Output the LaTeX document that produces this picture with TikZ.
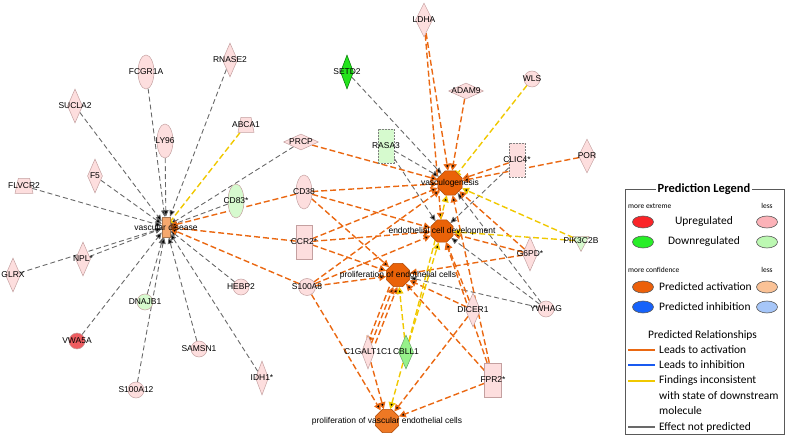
\documentclass[tikz,border=0pt]{standalone}
\usepackage{fontspec}
\setmainfont{Liberation Sans}
\newfontfamily\legfont{Carlito}
\usetikzlibrary{arrows.meta, positioning, shapes.geometric, backgrounds}

\definecolor{pinkf}{RGB}{253,222,222}
\definecolor{pinkd}{RGB}{196,160,160}
\definecolor{lgreenf}{RGB}{214,250,206}
\definecolor{midgreenf}{RGB}{150,242,138}
\definecolor{greenf}{RGB}{36,228,28}
\definecolor{redf}{RGB}{238,92,96}
\definecolor{oranf}{RGB}{234,98,8}
\definecolor{oranlf}{RGB}{238,120,36}
\definecolor{vdf}{RGB}{246,168,110}
\definecolor{edgeor}{RGB}{234,104,18}
\definecolor{edgeye}{RGB}{240,200,0}
\definecolor{edgegr}{RGB}{105,105,105}
\definecolor{edgebl}{RGB}{25,90,240}
\definecolor{upred}{RGB}{250,36,40}
\definecolor{uplt}{RGB}{252,178,184}
\definecolor{dngreen}{RGB}{40,238,40}
\definecolor{dnlt}{RGB}{188,248,178}
\definecolor{actS}{RGB}{236,96,10}
\definecolor{actW}{RGB}{250,194,150}
\definecolor{inhS}{RGB}{22,98,250}
\definecolor{inhW}{RGB}{166,198,248}

\tikzset{
  lbl/.style={font=\fontsize{8.5}{9}\selectfont, inner sep=0pt},
  gene/.style={draw=pinkd, fill=pinkf, line width=0.5bp, inner sep=0pt, label={[lbl]center:#1}},
  dia/.style={gene={#1}, diamond, minimum width=15bp, minimum height=34bp},
  wdia/.style={gene={#1}, diamond, minimum width=35bp, minimum height=16bp},
  ell/.style={gene={#1}, ellipse, minimum width=16bp, minimum height=34bp},
  circ/.style={gene={#1}, circle, minimum size=16bp},
  box16/.style={gene={#1}, rectangle, minimum width=16bp, minimum height=34bp},
  trap/.style={gene={#1}, trapezium, trapezium stretches=true, inner sep=1bp, trapezium left angle=74, trapezium right angle=74, minimum width=16bp, minimum height=15bp},
  tri/.style={gene={#1}, isosceles triangle, isosceles triangle stretches, shape border rotate=-90, inner sep=1bp, minimum width=16bp, minimum height=15bp},
  func/.style={draw=oranf!75!black, fill=oranf, line width=0.5bp, inner sep=0pt, regular polygon, regular polygon sides=8, minimum size=#1},
  ora/.style={draw=edgeor, line width=1.4bp, dash pattern=on 6bp off 3bp, -{Triangle[length=7bp,width=7bp]}},
  yel/.style={draw=edgeye, line width=1.4bp, dash pattern=on 6bp off 3bp, -{Triangle[length=7bp,width=7bp]}},
  yelbar/.style={draw=edgeye, line width=1.4bp, dash pattern=on 6bp off 3bp, -{Bar[width=7bp]}},
  gry/.style={draw=edgegr, line width=0.9bp, dash pattern=on 5bp off 3bp, -{Triangle[length=6.5bp,width=5.5bp]}},
  legtxt/.style={font=\legfont\fontsize{11.5}{13}\selectfont, inner sep=0pt, anchor=west},
  legsmall/.style={font=\legfont\fontsize{7.5}{9}\selectfont, inner sep=0pt},
  legell/.style={ellipse, draw=gray!70!black, line width=0.6bp, minimum width=21bp, minimum height=12bp, inner sep=0pt},
  legline/.style={line width=2.8bp, draw=#1},
}

\begin{document}
\begin{tikzpicture}[x=1bp, y=-1bp]
  \useasboundingbox (0,0) rectangle (787,438);

  % molecules round vascular disease
  \node[draw=vdf!70!black, fill=vdf, line width=0.5bp, inner sep=0pt, minimum width=8bp, minimum height=20bp,
        label={[lbl]center:vascular disease}] (vd) at (166,227) {};
  \node[ell=FCGR1A] (fcgr) at (146,72) {};
  \node[dia=RNASE2] (rnase) at (230,60) {};
  \node[dia=SUCLA2] (sucla) at (75,106) {};
  \node[ell=LY96] (ly96) at (165,141) {};
  \node[trap=ABCA1] (abca) at (246,125) {};
  \node[dia=F5] (f5) at (95,176) {};
  \node[trap=FLVCR2, minimum width=18bp] (flvcr) at (24,186) {};
  \node[ell=CD83*, fill=lgreenf] (cd83) at (236,201) {};
  \node[dia=NPL*] (npl) at (83,259) {};
  \node[dia=GLRX] (glrx) at (13,275) {};
  \node[circ=HEBP2] (hebp) at (241,287) {};
  \node[circ=DNAJB1, fill=lgreenf] (dnajb) at (145,302) {};
  \node[circ=VWA5A, fill=redf] (vwa) at (77,341) {};
  \node[circ=SAMSN1] (samsn) at (199,349) {};
  \node[circ=S100A12] (s100a12) at (136,390) {};
  \node[dia=IDH1*, minimum width=13bp] (idh) at (262,378) {};

  % middle column
  \node[wdia=PRCP] (prcp) at (301,142) {};
  \node[ell=CD38] (cd38) at (304,192) {};
  \node[box16=CCR2*] (ccr2) at (304,242) {};
  \node[circ=S100A8, minimum size=17bp] (s100a8) at (307,287) {};
  \node[dia=SETD2, fill=greenf, draw=green!45!black, minimum width=13bp] (setd2) at (347,72) {};
  \node[box16=RASA3, fill=lgreenf, draw=gray, dash pattern=on 2bp off 1bp] (rasa3) at (386,146) {};
  \node[dia=LDHA, minimum width=17bp] (ldha) at (424,20) {};
  \node[wdia=ADAM9] (adam9) at (466,91) {};
  \node[circ=WLS] (wls) at (532,79) {};
  \node[box16=CLIC4*, draw=gray, dash pattern=on 2bp off 1bp] (clic4) at (517,160) {};
  \node[dia=POR, minimum width=17bp] (por) at (587,156) {};

  % functions
  \node[func=26bp, label={[lbl]center:vasculogenesis}] (vg) at (450,183) {};
  \node[func=24bp, label={[lbl]center:endothelial cell development}] (ecd) at (442,231) {};
  \node[func=25bp, label={[lbl]center:proliferation of endothelial cells}] (pec) at (398,275) {};
  \node[func=25bp, fill=oranlf, label={[lbl]center:proliferation of vascular endothelial cells}] (pvec) at (387,421) {};

  % right side
  \node[tri=PIK3C2B, fill=lgreenf] (pik) at (581,241) {};
  \node[dia=G6PD*] (g6pd) at (530,254) {};
  \node[circ=YWHAG] (ywhag) at (546,309) {};
  \node[dia=DICER1] (dicer) at (473,310) {};
  \node[dia=C1GALT1C1, minimum width=13bp] (c1galt) at (368,352) {};
  \node[dia=CBLL1, fill=midgreenf, draw=green!40!black!60] (cbll) at (406,352) {};
  \node[box16=FPR2*, minimum width=17bp] (fpr2) at (493,380) {};

  \begin{scope}[on background layer]
    \path[gry] (fcgr) edge (vd) (rnase) edge (vd) (sucla) edge (vd) (ly96) edge (vd)
      (f5) edge (vd) (flvcr) edge (vd) (npl) edge (vd) (glrx) edge (vd)
      (hebp) edge (vd) (dnajb) edge (vd) (vwa) edge (vd) (samsn) edge (vd)
      (s100a12) edge (vd) (idh) edge (vd) (prcp) edge (vd) (cd83) edge (vd);
    \path[gry] (setd2) edge (vg) (rasa3) edge (vg) edge (ecd) (clic4) edge (ecd)
      (ywhag) edge (vg) edge (ecd) edge (pec);
    \path[yelbar] (abca) edge (vd) (wls) edge (vg);
    \path[ora] (cd38) edge (vd) edge (vg) edge (ecd) edge (pec)
      (ccr2) edge (vd) edge (vg) edge (ecd) edge (pec)
      (s100a8) edge (vd) edge (vg) edge (ecd) edge (pec) edge (pvec)
      (prcp) edge (vg)
      (ldha) edge (vg) edge (ecd)
      (adam9) edge (vg)
      (clic4) edge (vg)
      (por) edge (vg)
      (g6pd) edge (vg) edge (ecd) edge (pec)
      (fpr2) edge (vg) edge (ecd) edge (pec) edge (pvec)
      (dicer) edge (ecd) edge (pec) edge (pvec)
      (c1galt) edge (pvec) edge (pec)
      (c1galt) edge[transform canvas={xshift=4bp}] (pec)
      (pec) edge[transform canvas={xshift=-4bp}] (c1galt);
    \path[yel] (pik) edge (vg) edge (ecd)
      (cbll) edge (vg) edge (ecd) edge (pec) edge (pvec);
  \end{scope}

  % legend
  \node[draw=gray!70!black, line width=0.8bp, fill=white, anchor=north west, inner sep=0pt,
        minimum width=159bp, minimum height=245bp] (legbox) at (625,189) {};
  \node[fill=white, font=\legfont\bfseries\fontsize{12.5}{14}\selectfont, inner xsep=1.5bp, inner ysep=0pt] (legtitle) at (704,189) {Prediction Legend};
  \node[legsmall, anchor=west] (mext) at (628,206) {more extreme};
  \node[legsmall] (lessA) at (767,206) {less};
  \node[legell, fill=upred] (upS) at (643,222) {};
  \node[legtxt, anchor=center] (upT) at (704,222) {Upregulated};
  \node[legell, fill=uplt] (upW) at (767,222) {};
  \node[legell, fill=dngreen] (dnS) at (643,242) {};
  \node[legtxt, anchor=center] (dnT) at (704,242) {Downregulated};
  \node[legell, fill=dnlt] (dnW) at (767,242) {};
  \node[legsmall, anchor=west] (mconf) at (628,270) {more confidence};
  \node[legsmall] (lessB) at (767,270) {less};
  \node[legell, fill=actS] (acS) at (643,287) {};
  \node[legtxt] (acT) at (659,287) {Predicted activation};
  \node[legell, fill=actW] (acW) at (767,287) {};
  \node[legell, fill=inhS] (inS) at (643,307) {};
  \node[legtxt] (inT) at (659,307) {Predicted inhibition};
  \node[legell, fill=inhW] (inW) at (767,307) {};
  \node[legtxt] (relT) at (648,335) {Predicted Relationships};
  \coordinate (kA1) at (628,350); \coordinate (kA2) at (655,350);
  \coordinate (kB1) at (628,365); \coordinate (kB2) at (655,365);
  \coordinate (kC1) at (628,381); \coordinate (kC2) at (655,381);
  \coordinate (kD1) at (628,427); \coordinate (kD2) at (655,427);
  \draw[legline=edgeor] (kA1) -- (kA2);
  \draw[legline=edgebl] (kB1) -- (kB2);
  \draw[legline=edgeye] (kC1) -- (kC2);
  \draw[legline=edgegr] (kD1) -- (kD2);
  \node[legtxt] (actT) at (659,350) {Leads to activation};
  \node[legtxt] (inhT) at (659,365) {Leads to inhibition};
  \node[legtxt] (incT) at (659,381) {Findings inconsistent};
  \node[legtxt] (incT2) at (659,396) {with state of downstream};
  \node[legtxt] (incT3) at (659,411) {molecule};
  \node[legtxt] (nopT) at (659,427) {Effect not predicted};
\end{tikzpicture}
\end{document}
